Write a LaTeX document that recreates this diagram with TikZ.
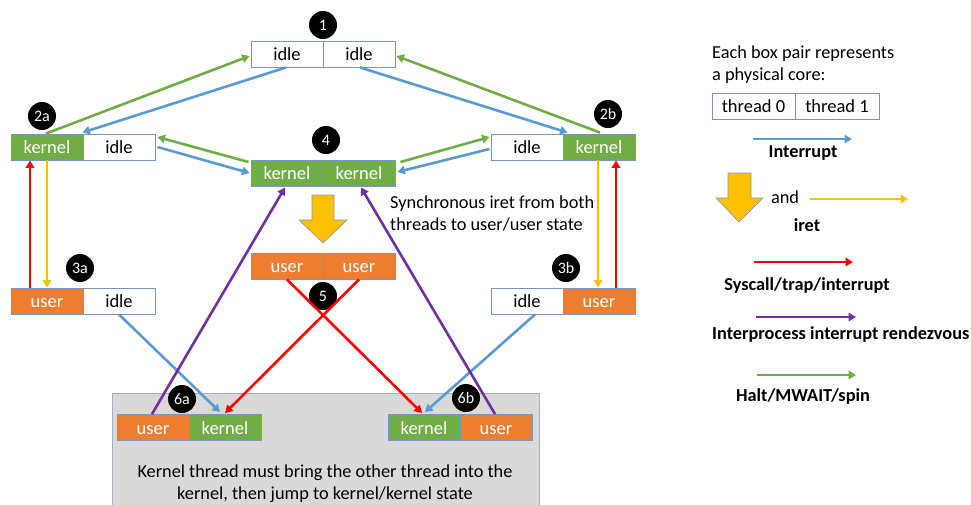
\documentclass[tikz,border=0pt]{standalone}
\usepackage{fontspec}
\setmainfont{Carlito}
\usetikzlibrary{arrows.meta,calc}
\definecolor{kgreen}{HTML}{70AD47}
\definecolor{uorange}{HTML}{ED7D31}
\definecolor{iblue}{HTML}{5B9BD5}
\definecolor{ryellow}{HTML}{FFC000}
\definecolor{sred}{HTML}{FF0000}
\definecolor{ppurple}{HTML}{7030A0}
\definecolor{boxc}{HTML}{7A96BD}
\definecolor{panelc}{HTML}{D9D9D9}
\definecolor{panelb}{HTML}{A3AEC0}

\begin{document}
\begin{tikzpicture}[x=1pt,y=-1pt,
  txt/.style={font=\fontsize{18.3pt}{22pt}\selectfont, inner sep=0pt},
  btxt/.style={font=\fontsize{18.3pt}{22pt}\selectfont\bfseries, inner sep=0pt},
  cell/.style={draw=boxc, line width=0.9pt, minimum width=72pt, minimum height=26pt,
    inner sep=0pt, text height=14.5pt, text depth=1pt,
    font=\fontsize{18.5pt}{22pt}\selectfont},
  idlec/.style={cell, fill=white, text=black},
  kern/.style={cell, fill=kgreen, text=white},
  usr/.style={cell, fill=uorange, text=white},
  badge/.style={circle, fill=black, minimum size=28pt, inner sep=0pt, text=white,
    font=\fontsize{16pt}{18pt}\selectfont},
  conn/.style={line width=2.6pt, -{Triangle[length=7.5pt,width=8.5pt]}},
  blockarrow/.style={fill=ryellow, draw=boxc, line width=0.6pt}
]
\useasboundingbox (0,0) rectangle (971,504);

% shaded panel behind the two mixed states
\node[draw=panelb, fill=panelc, line width=0.9pt, minimum width=427pt, minimum height=115pt,
  anchor=north west, inner sep=0pt] (panel) at (111.5,393) {};

% core states
\node[idlec] (c1l) at (287,54) {idle};
\node[idlec] (c1r) at (359,54) {idle};

\node[kern]  (c2al) at (47,147) {kernel};
\node[idlec] (c2ar) at (119,147) {idle};

\node[kern] (c4l) at (287,173) {kernel};
\node[kern] (c4r) at (359,173) {kernel};

\node[idlec] (c2bl) at (527,147) {idle};
\node[kern]  (c2br) at (599,147) {kernel};

\node[usr] (c5l) at (287,266) {user};
\node[usr] (c5r) at (359,266) {user};

\node[usr]   (c3al) at (47,301) {user};
\node[idlec] (c3ar) at (119,301) {idle};

\node[idlec] (c3bl) at (527,301) {idle};
\node[usr]   (c3br) at (599,301) {user};

\node[usr]  (c6al) at (153,427.5) {user};
\node[kern] (c6ar) at (225,427.5) {kernel};

\node[kern] (c6bl) at (424,427.5) {kernel};
\node[usr]  (c6br) at (496,427.5) {user};

% state numbers
\node[badge] (b1)  at (323,25)  {1};
\node[badge] (b2a) at (42,116)  {2a};
\node[badge] (b2b) at (608,114) {2b};
\node[badge] (b4)  at (326,140) {4};
\node[badge] (b3a) at (80,268)  {3a};
\node[badge] (b3b) at (566,268) {3b};
\node[badge] (b5)  at (323,296) {5};
\node[badge] (b6a) at (182,399) {6a};
\node[badge] (b6b) at (466,398) {6b};

% synchronous iret block arrow
\draw[blockarrow] (312,195) -- (334,195) -- (334,220) -- (347,220) -- (323,243)
  -- (299,220) -- (312,220) -- cycle;

\node[txt, align=left, anchor=north west] (sync) at (390,196)
  {Synchronous iret from both\\threads to user/user state};

\node[txt, align=center] (ptext) at (325,484)
  {Kernel thread must bring the other thread into the\\kernel, then jump to kernel/kernel state};

% halt / spin
\draw[conn, kgreen] ($(c2al.north)+(-1,0)$) -- ($(c1l.west)+(-1,2)$);
\draw[conn, kgreen] ($(c2br.north)+(1,-1)$) -- ($(c1r.east)+(1,2)$);
\draw[conn, kgreen] ($(c4l.west)+(-2,-11)$) -- ($(c2ar.east)+(2,-10)$);
\draw[conn, kgreen] ($(c4r.east)+(5,-11)$) -- ($(c2bl.west)+(-1,-10)$);

% interrupts
\draw[conn, iblue] ($(c1l.south)+(-1,0)$) -- ($(c2al.north east)+(-1,-1)$);
\draw[conn, iblue] ($(c1r.south)+(1,0)$) -- ($(c2br.north west)+(5,-1)$);
\draw[conn, iblue] ($(c2ar.east)+(2,0)$) -- ($(c4l.west)+(-1,0)$);
\draw[conn, iblue] ($(c2bl.west)+(-1,2)$) -- ($(c4r.east)+(2,-1)$);
\draw[conn, iblue] (c3ar.south) -- ($(c6ar.north)+(-5,-2)$);
\draw[conn, iblue] ($(c3bl.south)+(8,0)$) -- ($(c6bl.north)+(1,-2)$);

% syscall / trap / interrupt
\draw[conn, sred] ($(c3al.north)+(-17,0)$) -- ($(c2al.south)+(-17,0)$);
\draw[conn, sred] ($(c3br.north)+(17,0)$) -- ($(c2br.south)+(17,0)$);
\draw[conn, sred] (c5l.south) -- ($(c6bl.north)+(-2,-1)$);
\draw[conn, sred] (c5r.south) -- ($(c6ar.north)+(0,-1)$);

% iret
\draw[conn, ryellow] (c2al.south) -- (c3al.north);
\draw[conn, ryellow] ($(c2br.south)+(-1,0)$) -- ($(c3br.north)+(-1,0)$);

% rendezvous
\draw[conn, ppurple] ($(c6al.north)+(-1,0)$) -- ($(c4l.south)+(-2,1)$);
\draw[conn, ppurple] ($(c6br.north)+(-1,0)$) -- ($(c4r.south)+(2,1)$);

% legend
\node[txt, align=left, anchor=west] (lhead) at (712,65)
  {Each box pair represents\\a physical core:};
\node[idlec, minimum width=83pt] (lt0) at (753.5,106) {thread 0};
\node[idlec, minimum width=84pt] (lt1) at (837,106) {thread 1};

\coordinate (lbA) at (753,139);
\coordinate (lbB) at (852,139);
\draw[conn, iblue] (lbA) -- (lbB);
\node[btxt] (lbT) at (803,153) {Interrupt};

\draw[blockarrow] (728,173) -- (751,173) -- (751,198) -- (763,198) -- (739,222)
  -- (716,198) -- (728,198) -- cycle;
\node[txt] (land) at (785,197) {and};
\coordinate (lyA) at (810,199);
\coordinate (lyB) at (908,199);
\draw[conn, ryellow] (lyA) -- (lyB);
\node[btxt] (lyT) at (807,225) {iret};

\coordinate (lrA) at (754,262);
\coordinate (lrB) at (853,262);
\draw[conn, sred] (lrA) -- (lrB);
\node[btxt] (lrT) at (807,286) {Syscall/trap/interrupt};

\coordinate (lpA) at (756,317);
\coordinate (lpB) at (856,317);
\draw[conn, ppurple] (lpA) -- (lpB);
\node[btxt, anchor=west] (lpT) at (712,335) {Interprocess interrupt rendezvous};

\coordinate (lgA) at (757,375);
\coordinate (lgB) at (856,375);
\draw[conn, kgreen] (lgA) -- (lgB);
\node[btxt] (lgT) at (803,397) {Halt/MWAIT/spin};
\end{tikzpicture}
\end{document}
